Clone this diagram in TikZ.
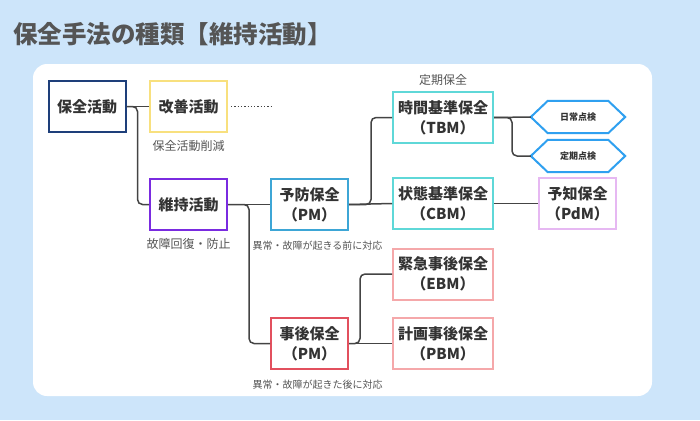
\documentclass[tikz,border=0pt]{standalone}
\usepackage{fontspec}
\setmainfont{Noto Sans CJK JP}
\definecolor{bg}{HTML}{CDE5FA}
\definecolor{cnavy}{HTML}{1E3F7A}
\definecolor{cyel}{HTML}{F8E07E}
\definecolor{cpur}{HTML}{7A2BE0}
\definecolor{cblue}{HTML}{3DA6D6}
\definecolor{cteal}{HTML}{5FD8D8}
\definecolor{clil}{HTML}{E6B8F2}
\definecolor{chex}{HTML}{2FA0F0}
\definecolor{cred}{HTML}{E2505E}
\definecolor{cpink}{HTML}{F5A8AA}
\definecolor{cline}{HTML}{444444}
\definecolor{ctext}{HTML}{333333}
\definecolor{clabel}{HTML}{555555}
\tikzset{
  box/.style={draw=#1, line width=2pt, fill=white, minimum width=77pt, minimum height=51pt,
    inner sep=0pt, align=center, text=ctext, font=\fontsize{15}{20}\selectfont\bfseries},
  wbox/.style={box=#1, minimum width=100pt},
  lbl/.style={text=clabel, font=\fontsize{12}{14}\selectfont, inner sep=0pt},
  slbl/.style={text=clabel, font=\fontsize{10}{12}\selectfont, inner sep=0pt},
  hexn/.style={minimum width=94pt, minimum height=32pt, inner sep=0pt, text=ctext,
    font=\fontsize{9}{11}\selectfont\bfseries},
  hexd/.style={draw=chex, line width=2pt, fill=white, line join=miter},
  conn/.style={draw=cline, line width=1.5pt, rounded corners=5pt},
}
\begin{document}
\begin{tikzpicture}[x=1pt, y=-1pt]
\useasboundingbox[fill=bg] (0,0) rectangle (700,420);
\fill[white, rounded corners=14pt] (33,64) rectangle (652,396);
\node[anchor=west, text=clabel, font=\fontsize{24.5}{28}\selectfont\bfseries, inner sep=0pt] (title) at (13,34) {保全手法の種類【維持活動】};

\node[box=cnavy] (hz) at (87,106.5) {保全活動};
\node[box=cyel] (kz) at (188.5,106.5) {改善活動};
\node[box=cpur] (ij) at (188.5,204.5) {維持活動};
\node[box=cblue] (yb) at (309.5,204.5) {予防保全\\（PM）};
\node[box=cred] (jg) at (309.5,343.5) {事後保全\\（PM）};
\node[wbox=cteal] (tbm) at (443,117.5) {時間基準保全\\（TBM）};
\node[wbox=cteal] (cbm) at (443,203.5) {状態基準保全\\（CBM）};
\node[box=clil] (pdm) at (577.5,203.5) {予知保全\\（PdM）};
\node[wbox=cpink] (ebm) at (443,274) {緊急事後保全\\（EBM）};
\node[wbox=cpink] (pbm) at (443,343.5) {計画事後保全\\（PBM）};

\node[hexn] (h1) at (578,117) {};
\node[hexn] (h2) at (578,156) {};
\foreach \h in {h1,h2}{
  \draw[hexd] (\h.west) -- ([xshift=17pt]\h.north west) -- ([xshift=-17pt]\h.north east)
    -- (\h.east) -- ([xshift=-17pt]\h.south east) -- ([xshift=17pt]\h.south west) -- cycle;
}
\node[hexn] at (h1) {日常点検};
\node[hexn] at (h2) {定期点検};

\node[lbl] (l1) at (188.5,146) {保全活動削減};
\node[lbl] (l2) at (188.5,243.5) {故障回復・防止};
\node[lbl] (l3) at (443,80) {定期保全};
\node[slbl] (l4) at (317.5,246) {異常・故障が起きる前に対応};
\node[slbl] (l5) at (317.5,385) {異常・故障が起きた後に対応};

\coordinate (dotend) at (272,106.5);
\draw[cline, line width=1.3pt, dotted] ([xshift=3pt]kz.east) -- (dotend);

\draw[conn] (hz.east) -- (kz.west);
\draw[conn] (hz.east) -- ++(11,0) |- (ij.west);
\draw[conn] (ij.east) -- (yb.west);
\draw[conn] (ij.east) -- ++(21,0) |- (jg.west);
\draw[conn] (yb.east) -- (cbm.west);
\draw[conn] (yb.east) -- ++(22,0) |- (tbm.west);
\draw[conn] (tbm.east) -- (h1.west);
\draw[conn] (tbm.east) -- ++(18,0) |- (h2.west);
\draw[conn] (cbm.east) -- (pdm.west);
\draw[conn] (jg.east) -- (pbm.west);
\draw[conn] (jg.east) -- ++(11,0) |- (ebm.west);
\end{tikzpicture}
\end{document}
